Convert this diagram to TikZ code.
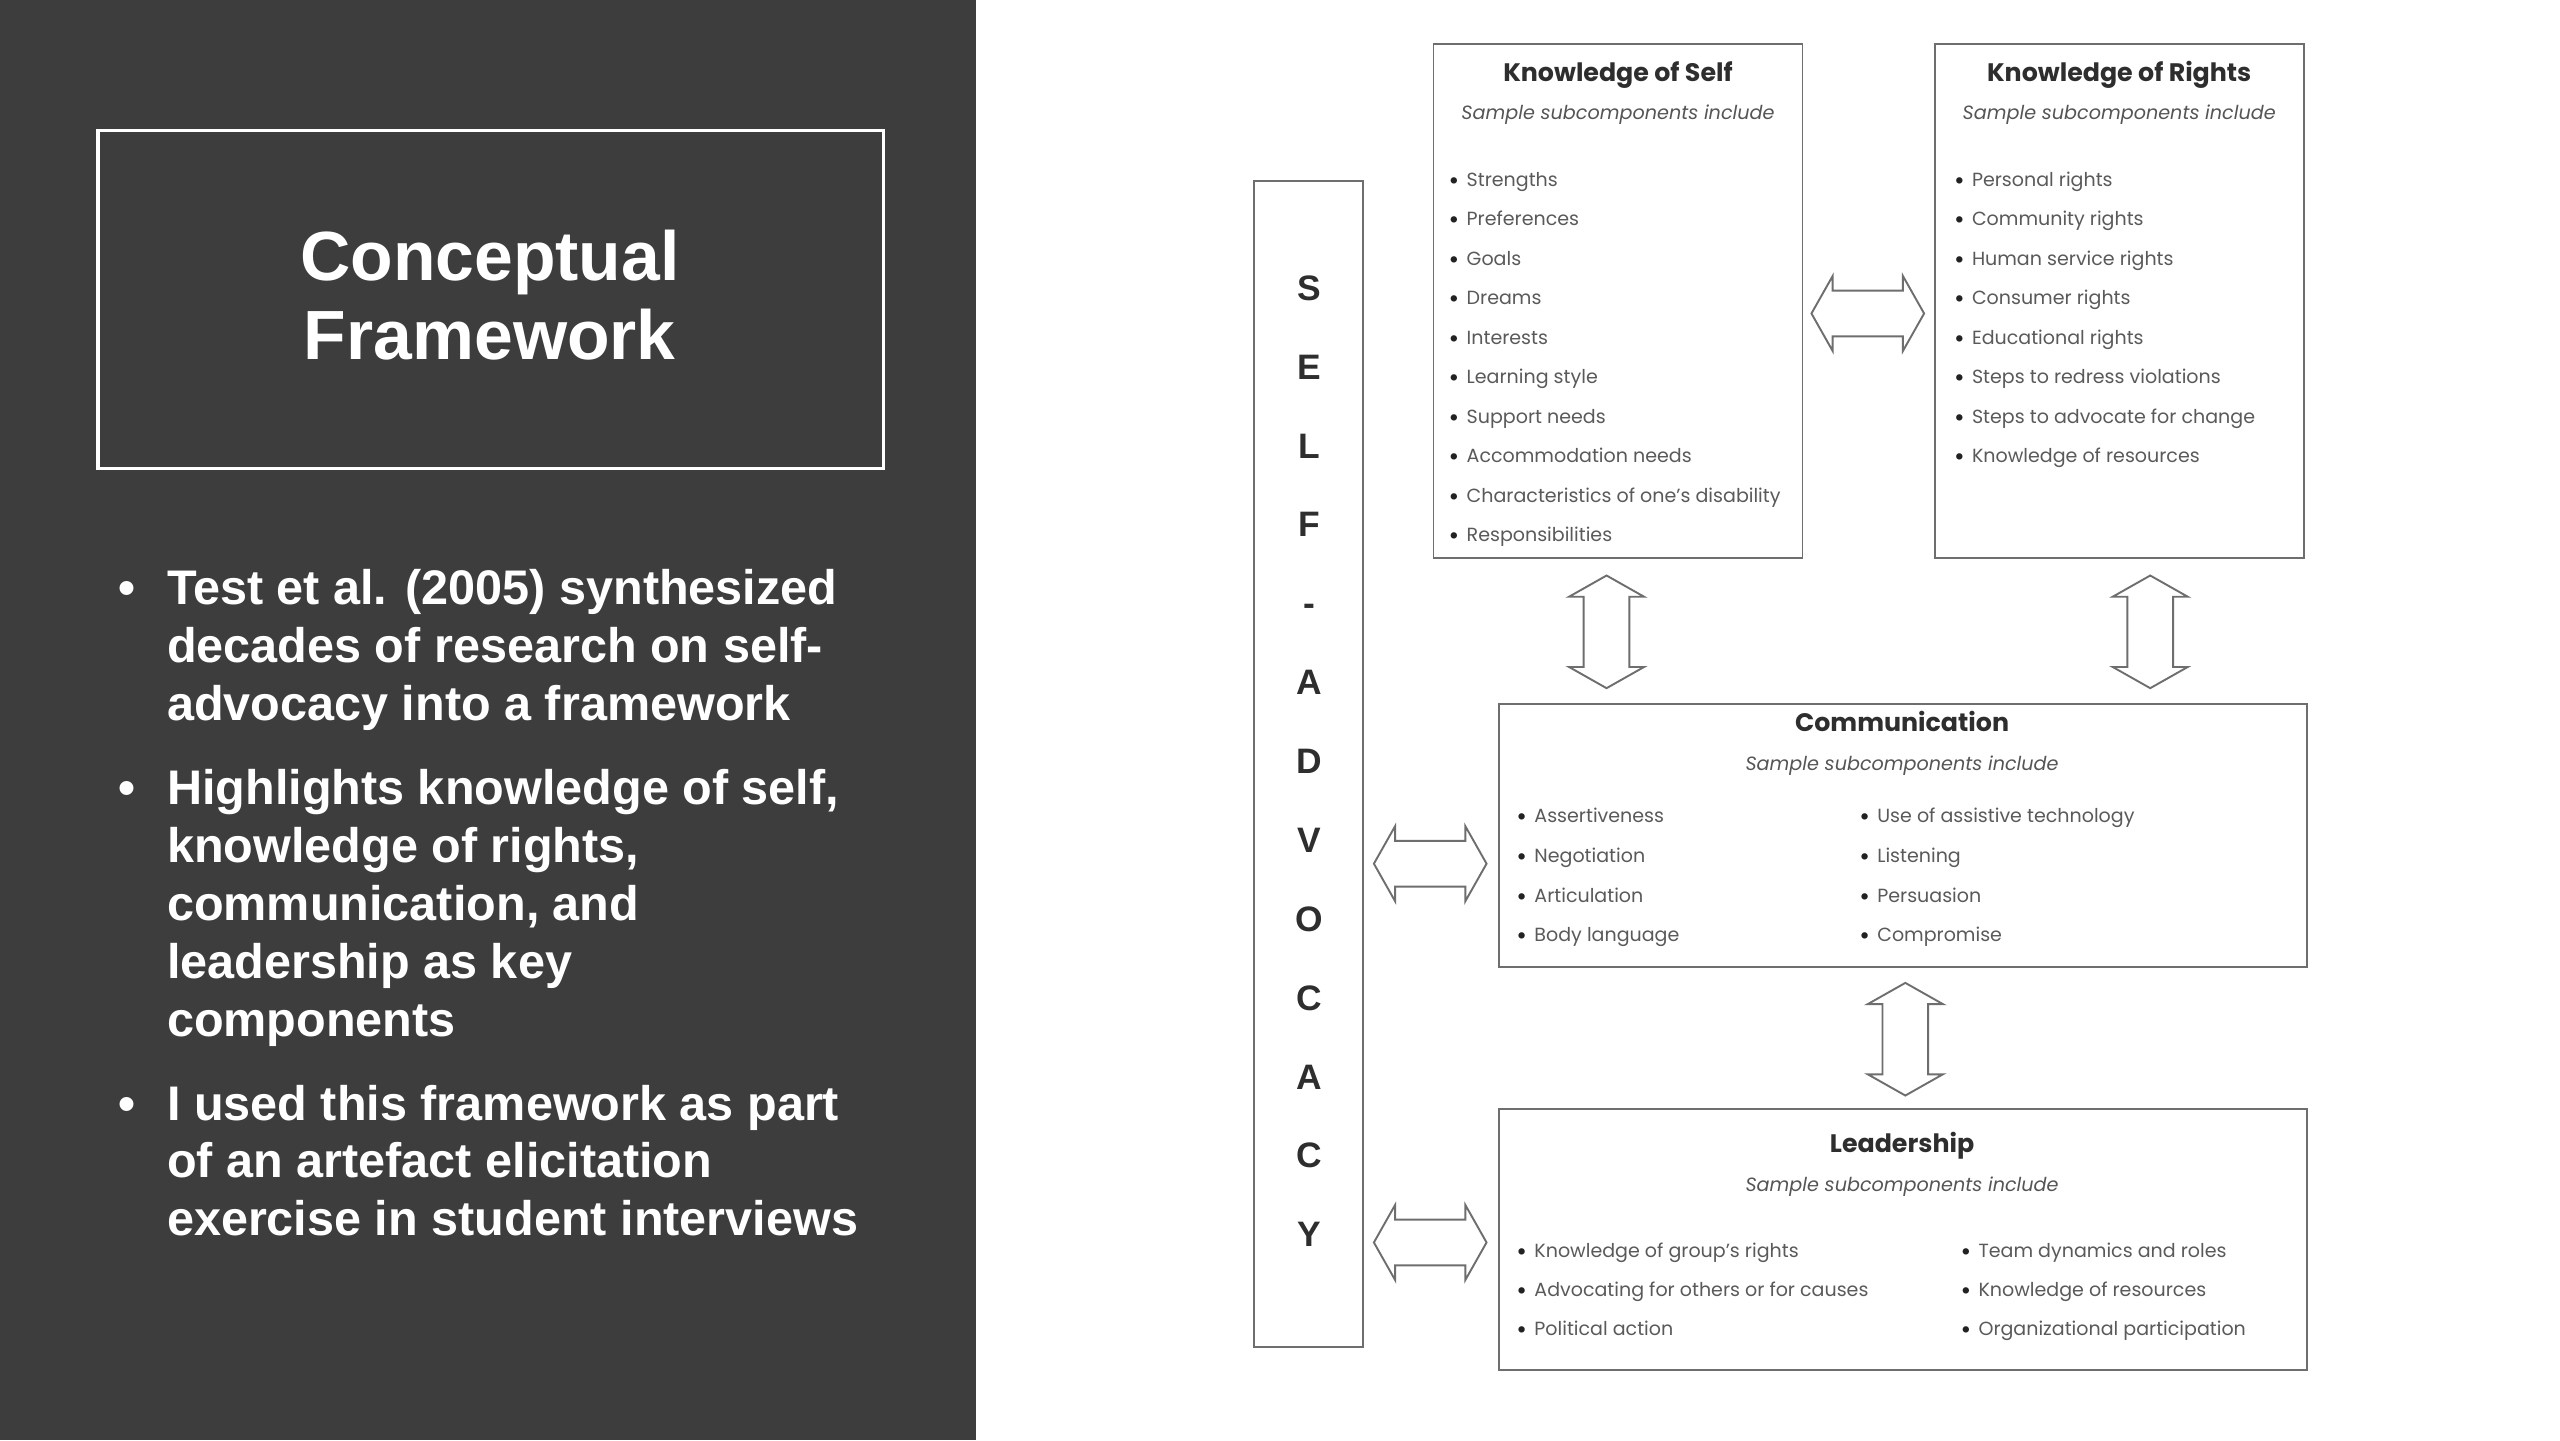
\documentclass[tikz,border=0pt]{standalone}
\usepackage{fontspec}
\setmainfont{Liberation Sans}
\newfontfamily\gothic{Poppins}
\usetikzlibrary{fit}
\definecolor{panel}{HTML}{3D3D3D}
\definecolor{boxgray}{HTML}{6E6E6E}
\definecolor{titlegray}{HTML}{2E2E2E}
\definecolor{subgray}{HTML}{555555}
\definecolor{itemgray}{HTML}{5A5A5A}
\definecolor{bulletgray}{HTML}{222222}
\newcommand{\itm}[1]{\makebox[6.6pt][l]{\textcolor{bulletgray}{\raisebox{-1.1pt}{\fontsize{9.5}{9}\selectfont\textbullet}}}#1}
\tikzset{
  fbox/.style={draw=boxgray, line width=0.7pt, inner sep=0pt},
  btitle/.style={font=\gothic\bfseries\fontsize{9.3}{11}\selectfont, text=titlegray, anchor=base, inner sep=0pt},
  bsub/.style={font=\gothic\itshape\fontsize{7.05}{9}\selectfont, text=subgray, anchor=base, inner sep=0pt},
  bitem/.style={font=\gothic\fontsize{7.0}{8.5}\selectfont, text=itemgray, anchor=base west, inner sep=0pt},
  vletter/.style={font=\bfseries\fontsize{13}{14}\selectfont, text=titlegray, anchor=base, inner sep=0pt},
  arrowline/.style={draw=boxgray, line width=0.7pt, fill=white, line join=miter},
  paneltitle/.style={font=\bfseries\fontsize{25.6}{29}\selectfont, text=white, anchor=base, inner sep=0pt},
  paneltext/.style={font=\bfseries\fontsize{17.85}{21}\selectfont, text=white, anchor=base west, inner sep=0pt},
  hdarrow/.pic={\path[arrowline] (-34.5,0) -- (-21.5,-23) -- (-21.5,-14) -- (21.5,-14) -- (21.5,-23) -- (34.5,0) -- (21.5,23) -- (21.5,14) -- (-21.5,14) -- (-21.5,23) -- cycle;},
  vdarrow/.pic={\path[arrowline] (0,-34.5) -- (-23,-21.5) -- (-14,-21.5) -- (-14,21.5) -- (-23,21.5) -- (0,34.5) -- (23,21.5) -- (14,21.5) -- (14,-21.5) -- (23,-21.5) -- cycle;}
}
\begin{document}
\begin{tikzpicture}[x=0.6pt,y=-0.6pt]
\useasboundingbox (0,0) rectangle (1568,882);
\fill[white] (0,0) rectangle (1568,882);
% left panel
\fill[panel] (0,0) rectangle (598,882);
\node[draw=white, line width=1.2pt, inner sep=0pt, fit={(60,80) (541,287)}] (titlebox) {};
\node[paneltitle] (t1) at (300,172) {Conceptual};
\node[paneltitle] (t2) at (300,220) {Framework};
\node[paneltext, anchor=base] (b1) at (78,370) {\textbullet};
\node[paneltext] (l11) at (102,370) {Test et al. (2005) synthesized};
\node[paneltext] (l12) at (102,405.5) {decades of research on self-};
\node[paneltext] (l13) at (102,441) {advocacy into a framework};
\node[paneltext, anchor=base] (b2) at (78,493) {\textbullet};
\node[paneltext] (l21) at (102,493) {Highlights knowledge of self,};
\node[paneltext] (l22) at (102,528.5) {knowledge of rights,};
\node[paneltext] (l23) at (102,564) {communication, and};
\node[paneltext] (l24) at (102,599.5) {leadership as key};
\node[paneltext] (l25) at (102,635) {components};
\node[paneltext, anchor=base] (b3) at (78,686) {\textbullet};
\node[paneltext] (l31) at (102,686) {I used this framework as part};
\node[paneltext] (l32) at (102,721.5) {of an artefact elicitation};
\node[paneltext] (l33) at (102,757) {exercise in student interviews};
% self-advocacy column
\node[fbox, fit={(768,111) (835,825)}] (col) {};
\foreach \ch [count=\i from 0] in {S,E,L,F,-,A,D,V,O,C,A,C,Y}
  \node[vletter] (v\i) at (802,184+48.3*\i) {\ch};
% Knowledge of Self
\node[fbox, fit={(878,27) (1104,342)}] (kos) {};
\node[btitle] (kost) at (991,50) {Knowledge of Self};
\node[bsub] (koss) at (991,73) {Sample subcomponents include};
\foreach \t [count=\i from 0] in {Strengths,Preferences,Goals,Dreams,Interests,Learning style,Support needs,Accommodation needs,Characteristics of one’s disability,Responsibilities}
  \node[bitem] (kosi\i) at (887,114+24.2*\i) {\itm{\t}};
% Knowledge of Rights
\node[fbox, fit={(1185,27) (1411,342)}] (kor) {};
\node[btitle] (kort) at (1298,50) {Knowledge of Rights};
\node[bsub] (kors) at (1298,73) {Sample subcomponents include};
\foreach \t [count=\i from 0] in {Personal rights,Community rights,Human service rights,Consumer rights,Educational rights,Steps to redress violations,Steps to advocate for change,Knowledge of resources}
  \node[bitem] (kori\i) at (1196.5,114+24.2*\i) {\itm{\t}};
% Communication
\node[fbox, fit={(918,431) (1413,592)}] (com) {};
\node[btitle] (comt) at (1165,448) {Communication};
\node[bsub] (coms) at (1165,472) {Sample subcomponents include};
\foreach \t [count=\i from 0] in {Assertiveness,Negotiation,Articulation,Body language}
  \node[bitem] (comi\i) at (928.5,504+24.3*\i) {\itm{\t}};
\foreach \t [count=\i from 0] in {Use of assistive technology,Listening,Persuasion,Compromise}
  \node[bitem] (comj\i) at (1138.5,504+24.3*\i) {\itm{\t}};
% Leadership
\node[fbox, fit={(918,679) (1413,839)}] (lead) {};
\node[btitle] (leadt) at (1165,706) {Leadership};
\node[bsub] (leads) at (1165,730) {Sample subcomponents include};
\foreach \t [count=\i from 0] in {Knowledge of group’s rights,Advocating for others or for causes,Political action}
  \node[bitem] (leadi\i) at (928.5,770+24*\i) {\itm{\t}};
\foreach \t [count=\i from 0] in {Team dynamics and roles,Knowledge of resources,Organizational participation}
  \node[bitem] (leadj\i) at (1200.5,770+24*\i) {\itm{\t}};
% block arrows
\coordinate (a1) at (1144,192);
\coordinate (a2) at (984,387);
\coordinate (a3) at (1317,387);
\coordinate (a4) at (1167,636.5);
\coordinate (a5) at (876,529);
\coordinate (a6) at (876,761);
\pic at (a1) {hdarrow};
\pic at (a2) {vdarrow};
\pic at (a3) {vdarrow};
\pic at (a4) {vdarrow};
\pic at (a5) {hdarrow};
\pic at (a6) {hdarrow};
\end{tikzpicture}
\end{document}
